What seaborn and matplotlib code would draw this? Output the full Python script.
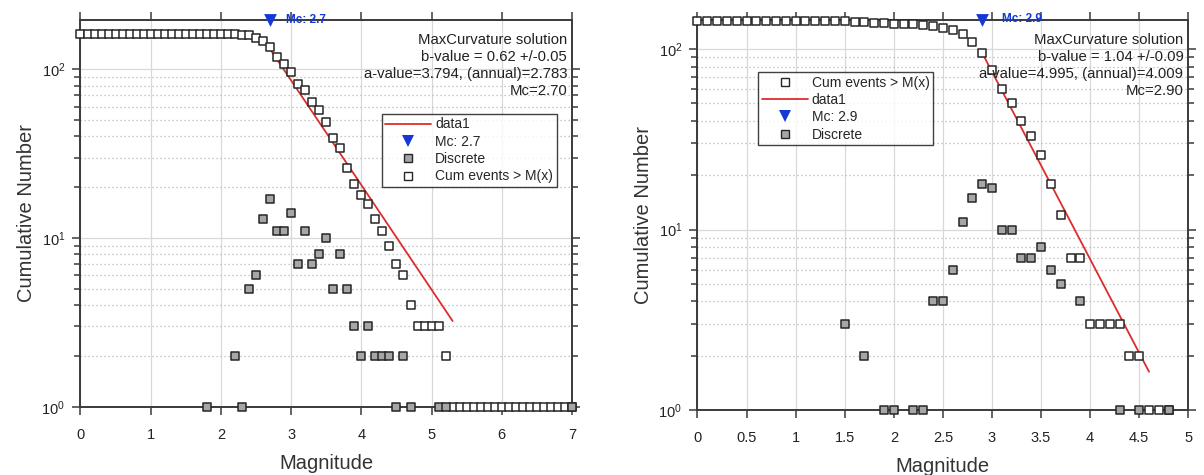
import numpy as np
import pandas as pd
import matplotlib
matplotlib.use("Agg")
import matplotlib.pyplot as plt
from matplotlib.lines import Line2D
from matplotlib.ticker import LogLocator, FormatStrFormatter, NullFormatter
import seaborn as sns

# ---------------- data ----------------
# Left panel
mag_left = [0.0, 0.1, 0.2, 0.3, 0.4, 0.5, 0.6, 0.7, 0.8, 0.9, 1.0, 1.1, 1.2, 1.3, 1.4, 1.5, 1.6, 1.7, 1.8, 1.9,
            2.0, 2.1, 2.2, 2.3, 2.4, 2.5, 2.6, 2.7, 2.8, 2.9, 3.0, 3.1, 3.2, 3.3, 3.4, 3.5, 3.6, 3.7, 3.8, 3.9,
            4.0, 4.1, 4.2, 4.3, 4.4, 4.5, 4.6, 4.7, 4.8, 4.9, 5.0, 5.1, 5.2, 5.3, 5.4, 5.5, 5.6, 5.7, 5.8, 5.9,
            6.0, 6.1, 6.2, 6.3, 6.4, 6.5, 6.6, 6.7, 6.8, 6.9, 7.0]
cum_left = [163, 163, 163, 163, 163, 163, 163, 163, 163, 163, 163, 163, 163, 163, 163, 163, 163, 163, 163, 162,
            162, 162, 162, 160, 159, 154, 148, 135, 118, 107, 96, 82, 75, 64, 57, 49, 39, 34, 26, 21,
            18, 16, 13, 11, 9, 7, 6, 4, 3, 3, 3, 3, 2, 1, 1, 1, 1, 1, 1, 1,
            1, 1, 1, 1, 1, 1, 1, 1, 1, 1, 1]
disc_mag_left = [1.8, 2.2, 2.3, 2.4, 2.5, 2.6, 2.7, 2.8, 2.9, 3.0, 3.1, 3.2, 3.3, 3.4, 3.5, 3.6, 3.7, 3.8,
                 3.9, 4.0, 4.1, 4.2, 4.3, 4.4, 4.5, 4.6, 4.7, 5.1, 5.2, 7.0]
disc_left = [1, 2, 1, 5, 6, 13, 17, 11, 11, 14, 7, 11, 7, 8, 10, 5, 8, 5,
             3, 2, 3, 2, 2, 2, 1, 2, 1, 1, 1, 1]
fit_mag_left = [2.7, 5.3]
fit_left = [131.8, 3.22]
mc_left = 2.7
text_left = ["MaxCurvature solution", "b-value = 0.62 +/-0.05",
             "a-value=3.794, (annual)=2.783", "Mc=2.70"]

# Right panel
mag_right = [0.0, 0.1, 0.2, 0.3, 0.4, 0.5, 0.6, 0.7, 0.8, 0.9, 1.0, 1.1, 1.2, 1.3, 1.4, 1.5, 1.6, 1.7, 1.8, 1.9,
             2.0, 2.1, 2.2, 2.3, 2.4, 2.5, 2.6, 2.7, 2.8, 2.9, 3.0, 3.1, 3.2, 3.3, 3.4, 3.5, 3.6, 3.7, 3.8, 3.9,
             4.0, 4.1, 4.2, 4.3, 4.4, 4.5, 4.6, 4.7, 4.8]
cum_right = [144, 144, 144, 144, 144, 144, 144, 144, 144, 144, 144, 144, 144, 144, 144, 144, 141, 141, 139, 139,
             138, 137, 137, 136, 135, 131, 127, 121, 110, 95, 77, 60, 50, 40, 33, 26, 18, 12, 7, 7,
             3, 3, 3, 3, 2, 2, 1, 1, 1]
disc_mag_right = [1.5, 1.7, 1.9, 2.0, 2.2, 2.3, 2.4, 2.5, 2.6, 2.7, 2.8, 2.9, 3.0, 3.1, 3.2, 3.3, 3.4,
                  3.5, 3.6, 3.7, 3.9, 4.3, 4.5, 4.8]
disc_right = [3, 2, 1, 1, 1, 1, 4, 4, 6, 11, 15, 18, 17, 10, 10, 7, 7,
              8, 6, 5, 4, 1, 1, 1]
fit_mag_right = [2.9, 4.6]
fit_right = [95.3, 1.63]
mc_right = 2.9
text_right = ["MaxCurvature solution", "b-value = 1.04 +/-0.09",
              "a-value=4.995, (annual)=4.009", "Mc=2.90"]

# ---------------- styling ----------------
sns.set_style("white")
plt.rcParams["font.family"] = ["Liberation Sans", "DejaVu Sans"]
plt.rcParams["mathtext.fontset"] = "custom"
plt.rcParams["mathtext.rm"] = "Liberation Sans"

SPINE = "#3a3a3a"
RED = "#dd2c2c"
BLUE = "#1438d8"
GRAY = "#a6a6a6"
EDGE = "#262626"

fig = plt.figure(figsize=(12.04, 4.75), dpi=100)
ax1 = fig.add_axes([80.5 / 1204, 68.3 / 475, 491.5 / 1204, 386.7 / 475])
ax2 = fig.add_axes([697.5 / 1204, 65.0 / 475, 490.8 / 1204, 390.5 / 475])


def draw(ax, mag, cum, dmag, disc, fmag, fval, mc, texts, xmax, ymax, xticks, legend_order,
         leg_anchor, mc_offset):
    ax.set_yscale("log")
    cum_df = pd.DataFrame({"Magnitude": mag, "N": cum})
    disc_df = pd.DataFrame({"Magnitude": dmag, "N": disc})
    fit_df = pd.DataFrame({"Magnitude": fmag, "N": fval})

    sns.lineplot(data=fit_df, x="Magnitude", y="N", color=RED, linewidth=1.3, ax=ax, zorder=3)
    sns.scatterplot(data=cum_df, x="Magnitude", y="N", marker="s", s=36, color="white",
                    edgecolor=EDGE, linewidth=1.1, ax=ax, zorder=4, clip_on=False)
    sns.scatterplot(data=disc_df, x="Magnitude", y="N", marker="s", s=36, color=GRAY,
                    edgecolor=EDGE, linewidth=1.1, ax=ax, zorder=5, clip_on=False)
    sns.scatterplot(x=[mc], y=[ymax], marker="v", s=85, color=BLUE, edgecolor=BLUE,
                    linewidth=0, ax=ax, zorder=6, clip_on=False)
    ax.text(mc + mc_offset, ymax, f"Mc: {mc}", color=BLUE, fontsize=8.5, fontweight="bold",
            va="center", ha="left", zorder=7, clip_on=False)

    ax.set_xlim(0, xmax)
    ax.set_ylim(1, ymax)
    ax.set_xticks(xticks)
    ax.xaxis.set_major_formatter(FormatStrFormatter("%g"))
    ax.yaxis.set_major_locator(LogLocator(base=10, numticks=10))
    ax.yaxis.set_minor_locator(LogLocator(base=10, subs=np.arange(2, 10), numticks=20))
    ax.yaxis.set_minor_formatter(NullFormatter())

    ax.grid(True, which="major", axis="x", color="#d8d8d8", linewidth=0.9, linestyle="-")
    ax.grid(True, which="major", axis="y", color="#d8d8d8", linewidth=0.9, linestyle="-")
    ax.grid(True, which="minor", axis="y", color="#b8b8b8", linewidth=0.9, linestyle=(0, (1, 2.2)))
    ax.set_axisbelow(True)

    for sp in ax.spines.values():
        sp.set_visible(True)
        sp.set_color(SPINE)
        sp.set_linewidth(1.4)
    ax.tick_params(which="both", direction="out", top=True, right=True, bottom=True, left=True,
                   colors=SPINE, labelcolor="#222222", width=1.1)
    ax.tick_params(which="major", length=6, labelsize=10.5)
    ax.tick_params(which="minor", length=4)
    ax.tick_params(axis="x", which="major", pad=9)
    ax.tick_params(axis="y", which="major", pad=5)

    ax.set_xlabel("Magnitude", fontsize=14.5, color="#333333", labelpad=9)
    ax.set_ylabel("Cumulative Number", fontsize=14.5, color="#333333", labelpad=4)

    ax.text(0.99, 0.966, "\n".join(texts), transform=ax.transAxes, ha="right", va="top",
            fontsize=10.7, color="#222222", linespacing=1.27, zorder=8)

    handles = {
        "data1": Line2D([], [], color=RED, linewidth=1.3),
        f"Mc: {mc}": Line2D([], [], color=BLUE, marker="v", linestyle="none", markersize=9,
                              markeredgewidth=0),
        "Discrete": Line2D([], [], color=GRAY, marker="s", linestyle="none", markersize=5.5,
                           markeredgecolor=EDGE, markeredgewidth=1.0),
        "Cum events > M(x)": Line2D([], [], color="white", marker="s", linestyle="none",
                                    markersize=5.5, markeredgecolor=EDGE, markeredgewidth=1.0),
    }
    leg = ax.legend([handles[l] for l in legend_order], legend_order, loc="upper left",
                    bbox_to_anchor=leg_anchor, frameon=True, fancybox=False, fontsize=10,
                    handlelength=3.3, handletextpad=0.3, labelspacing=0.24, borderpad=0.25,
                    borderaxespad=0.0)
    leg.get_frame().set_edgecolor("#111111")
    leg.get_frame().set_linewidth(1.0)
    leg.set_zorder(9)


draw(ax1, mag_left, cum_left, disc_mag_left, disc_left, fit_mag_left, fit_left, mc_left,
     text_left, 7.0, 196, list(range(0, 8)),
     ["data1", f"Mc: {mc_left}", "Discrete", "Cum events > M(x)"], (0.613, 0.757), 0.22)
draw(ax2, mag_right, cum_right, disc_mag_right, disc_right, fit_mag_right, fit_right, mc_right,
     text_right, 5.0, 146, [0, 0.5, 1, 1.5, 2, 2.5, 3, 3.5, 4, 4.5, 5],
     ["Cum events > M(x)", "data1", f"Mc: {mc_right}", "Discrete"], (0.124, 0.865), 0.2)

fig.savefig("out.png", dpi=100)
